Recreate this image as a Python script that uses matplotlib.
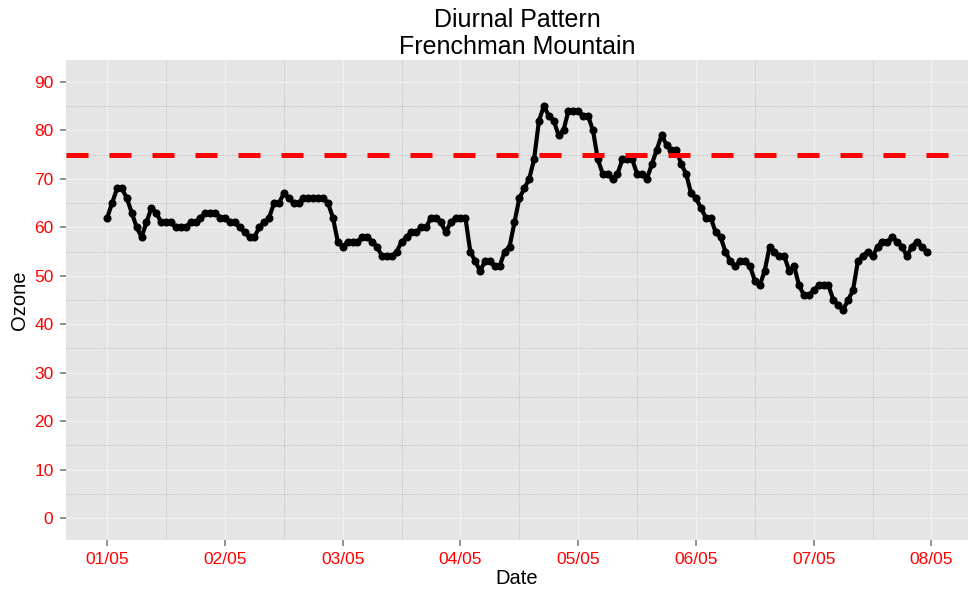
import numpy as np
import pandas as pd
import matplotlib
matplotlib.use("Agg")
import matplotlib.pyplot as plt
import matplotlib.dates as mdates

plt.rcParams['font.family'] = ['Liberation Sans', 'DejaVu Sans']

# hourly ozone, 01/05 00:00 .. 07/05 23:00
start = "2013-05-01 00:00"
ozone = [
    62, 65, 68, 68, 66, 63, 60, 58, 61, 64, 63, 61, 61, 61, 60, 60, 60, 61, 61, 62, 63, 63, 63, 62,
    62, 61, 61, 60, 59, 58, 58, 60, 61, 62, 65, 65, 67, 66, 65, 65, 66, 66, 66, 66, 66, 65, 62, 57,
    56, 57, 57, 57, 58, 58, 57, 56, 54, 54, 54, 55, 57, 58, 59, 59, 60, 60, 62, 62, 61, 59, 61, 62,
    62, 62, 55, 53, 51, 53, 53, 52, 52, 55, 56, 61, 66, 68, 70, 74, 82, 85, 83, 82, 79, 80, 84, 84,
    84, 83, 83, 80, 74, 71, 71, 70, 71, 74, 74, 74, 71, 71, 70, 73, 76, 79, 77, 76, 76, 73, 71, 67,
    66, 64, 62, 62, 59, 58, 55, 53, 52, 53, 53, 52, 49, 48, 51, 56, 55, 54, 54, 51, 52, 48, 46, 46,
    47, 48, 48, 48, 45, 44, 43, 45, 47, 53, 54, 55, 54, 56, 57, 57, 58, 57, 56, 54, 56, 57, 56, 55,
]
standard = 75
y_ticks = list(range(0, 100, 10))
x_tick_dates = pd.date_range("2013-05-01", "2013-05-08", freq="D")

times = pd.date_range(start, periods=len(ozone), freq="h")

fig = plt.figure(figsize=(9.68, 5.9), dpi=100)
ax = fig.add_axes([66 / 968, 1 - 540 / 590, (968 - 66) / 968, (540 - 60) / 590])

ax.set_facecolor('#e5e5e5')
for s in ax.spines.values():
    s.set_visible(False)

ax.plot(times, ozone, color='black', lw=3, marker='o', ms=4.8, zorder=3)
ax.axhline(standard, color='#ff0000', lw=3.6, dashes=(4.4, 4.2), zorder=4)

x0 = mdates.date2num(pd.Timestamp("2013-05-01"))
ax.set_xlim(x0 - 0.35, x0 + 7.31)
ax.set_ylim(-4.5, 94.5)

ax.set_yticks(y_ticks)
ax.set_xticks(x_tick_dates)
ax.xaxis.set_major_formatter(mdates.DateFormatter('%d/%m'))
ax.set_xticks(x_tick_dates[:-1] + pd.Timedelta(hours=12), minor=True)
ax.set_yticks(np.arange(5, 95, 10), minor=True)

ax.grid(which='major', color='#f0f0f0', lw=0.9, ls='-', zorder=0)
ax.grid(which='minor', color='#b0b0b0', lw=0.6, ls=':', zorder=0)
ax.set_axisbelow(True)

ax.tick_params(which='major', length=4, width=1.2, color='#7f7f7f',
               labelcolor='#ff0000', labelsize=12.5, pad=5)
ax.tick_params(which='minor', length=0)

ax.set_xlabel('Date', fontsize=14.5, labelpad=1)
ax.set_ylabel('Ozone', fontsize=14.5, labelpad=4)
fig.text(517 / 968, 1 - 8 / 590, 'Diurnal Pattern\nFrenchman Mountain', fontsize=18,
         linespacing=1.18, ha='center', va='top')

fig.savefig('out.png', dpi=100)
